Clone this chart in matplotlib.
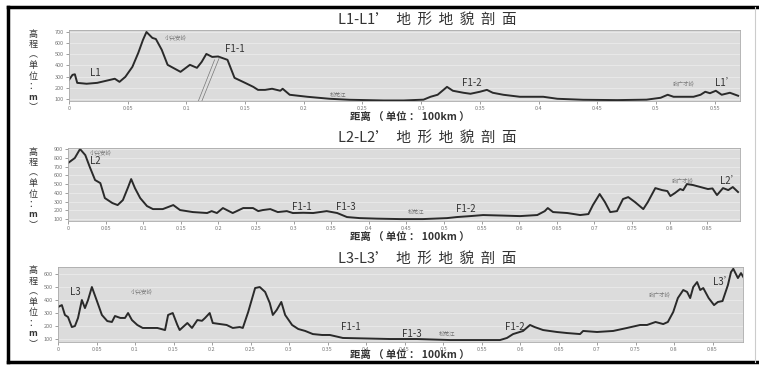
import matplotlib
matplotlib.use("Agg")
import matplotlib.pyplot as plt
from matplotlib.lines import Line2D

plt.rcParams['font.family'] = ['Noto Sans CJK SC', 'DejaVu Sans']

# === profile L1-L1' ===
x1 = [0.0, 0.003, 0.005, 0.007, 0.015, 0.024, 0.035, 0.039, 0.043, 0.048, 0.054, 0.059,
      0.063, 0.066, 0.071, 0.074, 0.079, 0.084, 0.095, 0.103, 0.109, 0.113, 0.117, 0.122,
      0.127, 0.135, 0.141, 0.150, 0.157, 0.161, 0.167, 0.173, 0.180, 0.182, 0.188, 0.203,
      0.222, 0.239, 0.268, 0.285, 0.302, 0.308, 0.314, 0.319, 0.322, 0.327, 0.336, 0.342,
      0.350, 0.356, 0.361, 0.370, 0.384, 0.404, 0.416, 0.438, 0.467, 0.492, 0.504, 0.510,
      0.515, 0.532, 0.538, 0.542, 0.546, 0.551, 0.556, 0.563, 0.570]
h1 = [270, 315, 320, 243, 235, 243, 270, 280, 252, 297, 387, 512,
      629, 700, 647, 637, 540, 405, 342, 405, 378, 431, 503, 476,
      480, 450, 288, 243, 207, 180, 180, 190, 172, 190, 136, 118,
      100, 91, 85, 85, 92, 118, 136, 180, 207, 172, 154, 145,
      163, 180, 154, 136, 118, 118, 100, 91, 88, 92, 109, 136,
      118, 118, 136, 163, 150, 172, 136, 154, 127]

# === profile L2-L2' ===
x2 = [0.0, 0.009, 0.016, 0.023, 0.029, 0.036, 0.043, 0.049, 0.059, 0.066, 0.073, 0.080,
      0.084, 0.089, 0.096, 0.105, 0.113, 0.126, 0.140, 0.149, 0.166, 0.185, 0.191, 0.198,
      0.206, 0.219, 0.233, 0.246, 0.253, 0.259, 0.269, 0.279, 0.291, 0.299, 0.313, 0.326,
      0.335, 0.344, 0.358, 0.371, 0.388, 0.411, 0.441, 0.472, 0.504, 0.517, 0.535, 0.552,
      0.578, 0.601, 0.624, 0.634, 0.638, 0.645, 0.664, 0.681, 0.692, 0.698, 0.707, 0.714,
      0.721, 0.730, 0.738, 0.745, 0.754, 0.765, 0.771, 0.781, 0.790, 0.797, 0.801, 0.807,
      0.814, 0.818, 0.823, 0.831, 0.841, 0.851, 0.857, 0.863, 0.871, 0.878, 0.884, 0.891]
h2 = [740, 797, 900, 831, 694, 546, 511, 340, 283, 260, 317, 466,
      557, 454, 340, 249, 214, 214, 260, 203, 180, 169, 191, 169,
      226, 169, 226, 226, 191, 203, 214, 180, 191, 169, 172, 169,
      180, 191, 169, 123, 111, 105, 100, 100, 111, 123, 134, 146,
      140, 134, 146, 191, 226, 180, 169, 146, 157, 260, 386, 294,
      180, 191, 329, 351, 294, 214, 294, 454, 431, 420, 363, 397,
      443, 430, 500, 489, 466, 443, 450, 374, 454, 431, 466, 409]

# === profile L3-L3' ===
x3 = [0.0, 0.005, 0.009, 0.013, 0.018, 0.022, 0.026, 0.031, 0.035, 0.039, 0.044, 0.051,
      0.057, 0.064, 0.070, 0.074, 0.081, 0.087, 0.091, 0.096, 0.103, 0.110, 0.129, 0.139,
      0.143, 0.149, 0.155, 0.158, 0.168, 0.174, 0.181, 0.187, 0.191, 0.197, 0.201, 0.219,
      0.227, 0.236, 0.240, 0.247, 0.256, 0.262, 0.269, 0.275, 0.279, 0.284, 0.290, 0.295,
      0.304, 0.312, 0.321, 0.331, 0.343, 0.353, 0.370, 0.401, 0.431, 0.466, 0.509, 0.552,
      0.574, 0.583, 0.591, 0.604, 0.613, 0.619, 0.630, 0.648, 0.661, 0.678, 0.682, 0.700,
      0.721, 0.739, 0.756, 0.765, 0.776, 0.786, 0.792, 0.799, 0.805, 0.812, 0.817, 0.821,
      0.825, 0.830, 0.834, 0.838, 0.845, 0.852, 0.857, 0.863, 0.870, 0.874, 0.877, 0.883,
      0.887, 0.890]
h3 = [346, 361, 285, 269, 192, 200, 262, 400, 338, 400, 500, 385,
      285, 238, 231, 277, 262, 262, 300, 246, 208, 185, 185, 169,
      285, 300, 208, 169, 223, 185, 246, 240, 262, 300, 223, 208,
      185, 192, 185, 308, 492, 500, 462, 377, 285, 323, 385, 285,
      208, 177, 162, 138, 131, 131, 108, 104, 100, 100, 92, 92,
      92, 108, 138, 162, 208, 192, 169, 154, 146, 138, 162, 154,
      162, 185, 208, 208, 231, 215, 231, 308, 415, 477, 462, 415,
      500, 538, 477, 492, 415, 361, 385, 392, 515, 615, 640, 569,
      607, 577]

titles = ["L1-L1’  地  形  地  貌  剖  面",
          "L2-L2’  地  形  地  貌  剖  面",
          "L3-L3’  地  形  地  貌  剖  面"]
xlabel = "距离 （ 单位 ： 100km ）"
ylabel_chars = ["高", "程", "︵", "单", "位", "：", "m", "︶"]

xticks = [[0, 0.05, 0.1, 0.15, 0.2, 0.25, 0.3, 0.35, 0.4, 0.45, 0.5, 0.55],
          [0, 0.05, 0.1, 0.15, 0.2, 0.25, 0.3, 0.35, 0.4, 0.45, 0.5, 0.55, 0.6, 0.65,
           0.7, 0.75, 0.8, 0.85],
          [0, 0.05, 0.1, 0.15, 0.2, 0.25, 0.3, 0.35, 0.4, 0.45, 0.5, 0.55, 0.6, 0.65,
           0.7, 0.75, 0.8, 0.85]]
yticks = [[100, 200, 300, 400, 500, 600, 700],
          [100, 200, 300, 400, 500, 600, 700, 800, 900],
          [100, 200, 300, 400, 500, 600]]

# labels on each profile: (text, x, y, big?)
labels = [
    [("L1", 0.018, 330, True), ("小兴安岭", 0.082, 655, False), ("F1-1", 0.133, 545, True),
     ("松花江", 0.222, 136, False), ("F1-2", 0.335, 240, True), ("张广才岭", 0.514, 240, False),
     ("L1’", 0.550, 240, True)],
    [("小兴安岭", 0.029, 860, False), ("L2", 0.029, 760, True), ("F1-1", 0.298, 240, True),
     ("F1-3", 0.356, 240, True), ("松花江", 0.452, 175, False), ("F1-2", 0.516, 210, True),
     ("张广才岭", 0.803, 540, False), ("L2’", 0.867, 540, True)],
    [("L3", 0.016, 465, True), ("小兴安岭", 0.094, 465, False), ("F1-1", 0.367, 190, True),
     ("F1-3", 0.447, 140, True), ("松花江", 0.494, 140, False), ("F1-2", 0.581, 195, True),
     ("张广才岭", 0.767, 446, False), ("L3’", 0.850, 540, True)],
]

# fault lines near F1-1 on L1
fault_x = [[0.110, 0.124], [0.113, 0.128]]
fault_y = [[75, 450], [75, 468]]

xs = [x1, x2, x3]
hs = [h1, h2, h3]
xlims = [(0, 0.5716), (0, 0.8936), (0, 0.8896)]
ylims = [(80, 718), (78, 912), (77, 654)]

W, H = 759, 370
fig = plt.figure(figsize=(W / 100, H / 100), dpi=100)
fig.patch.set_facecolor("white")

# axes boxes in pixels: left, top, right, bottom
boxes = [(69, 30, 740, 101), (68, 148, 740, 221), (58, 267, 743, 342)]
title_y = [20, 138, 259]
xlabel_y = [118, 238, 356]

for i in range(3):
    l, t, r, b = boxes[i]
    ax = fig.add_axes([l / W, 1 - b / H, (r - l) / W, (b - t) / H])
    ax.set_facecolor("#dcdcdc")
    ax.plot(xs[i], hs[i], color="#2a2a2a", lw=1.4, solid_joinstyle="round")
    ax.set_xlim(*xlims[i])
    ax.set_ylim(*ylims[i])
    ax.set_xticks(xticks[i])
    ax.set_xticklabels([("%g" % v) for v in xticks[i]])
    ax.set_yticks(yticks[i])
    ax.tick_params(labelsize=4, colors="#777777", length=2, width=0.5, pad=1.5)
    for s in ax.spines.values():
        s.set_color("#aaaaaa")
        s.set_linewidth(0.6)
    ax.grid(axis="y", color="white", lw=0.5, alpha=0.5)
    ax.set_axisbelow(True)

    for txt, lx, ly, big in labels[i]:
        if big:
            ax.text(lx, ly, txt, fontsize=7, color="#333333", va="center")
        else:
            ax.text(lx, ly, txt, fontsize=4, color="#777777", va="center")

    if i == 0:
        for fx, fy in zip(fault_x, fault_y):
            ax.plot(fx, fy, color="#777777", lw=0.5)

    fig.text(427 / W, 1 - title_y[i] / H, titles[i], fontsize=10.5, color="#333333",
             ha="center", va="center")
    fig.text(410 / W, 1 - xlabel_y[i] / H, xlabel, fontsize=7.5, color="#333333",
             ha="center", va="center", fontweight="bold")
    # vertical y label, one character per row
    for k, ch in enumerate(ylabel_chars):
        fig.text(33 / W, 1 - (t + 4 + k * 10.5) / H, ch, fontsize=6.5, color="#333333",
                 ha="center", va="center",
                 fontweight="bold" if ch == "m" else "normal")

# outer frame
fig.add_artist(Line2D([8 / W, 1], [1 - 7 / H, 1 - 7 / H], color="black", lw=2.5))
fig.add_artist(Line2D([8 / W, 8 / W], [1 - 7 / H, 1 - 362 / H], color="black", lw=2.5))
fig.add_artist(Line2D([8 / W, 1], [1 - 362 / H, 1 - 362 / H], color="black", lw=2.5))
fig.add_artist(Line2D([755 / W, 755 / W], [1 - 7 / H, 1 - 362 / H], color="#cccccc", lw=0.8))

fig.savefig("out.png", dpi=100)
